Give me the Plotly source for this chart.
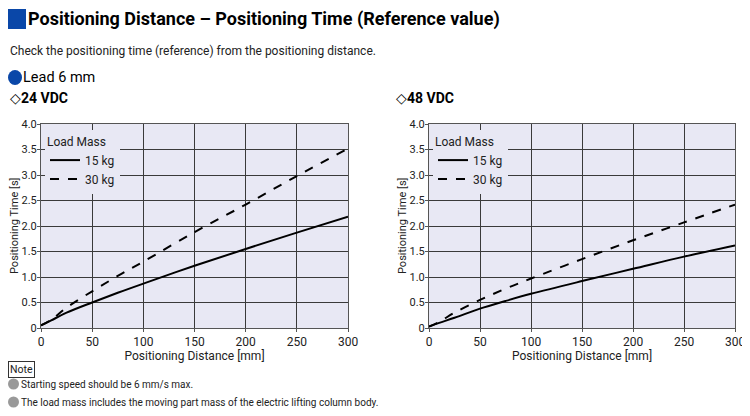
import plotly.graph_objects as go

# positioning distance [mm]
distance = [0, 10, 25, 50, 75, 100, 150, 200, 250, 300]

# positioning time [s], 24 VDC
time_24_15kg = [0.05, 0.15, 0.30, 0.50, 0.69, 0.87, 1.22, 1.55, 1.87, 2.18]
time_24_30kg = [0.05, 0.16, 0.40, 0.72, 1.02, 1.30, 1.88, 2.42, 2.98, 3.52]

# positioning time [s], 48 VDC
time_48_15kg = [0.03, 0.10, 0.20, 0.38, 0.53, 0.67, 0.92, 1.16, 1.40, 1.62]
time_48_30kg = [0.03, 0.12, 0.30, 0.55, 0.77, 0.97, 1.35, 1.72, 2.07, 2.42]

x_ticks = [0, 50, 100, 150, 200, 250, 300]
y_ticks = [0, 0.5, 1.0, 1.5, 2.0, 2.5, 3.0, 3.5, 4.0]
y_ticktext = ["0", "0.5", "1.0", "1.5", "2.0", "2.5", "3.0", "3.5", "4.0"]

FONT = "Roboto, Liberation Sans, sans-serif"
PLOT_BG = "#e8e8f4"
GRID = "#3a3a3a"
TEXT = "#222"

# the page body has an 8px margin, so the figure is placed 8px in
OFF = 8
W, H = 750 - OFF, 416 - OFF


def px(x):
    return (x - OFF) / W


def py(y):
    return 1 - (y - OFF) / H


fig = go.Figure()

panels = [
    ("x", "y", "legend", time_24_15kg, time_24_30kg),
    ("x2", "y2", "legend2", time_48_15kg, time_48_30kg),
]
for xa, ya, lg, t15, t30 in panels:
    fig.add_trace(go.Scatter(
        x=distance, y=t15, name="15 kg", mode="lines",
        line=dict(color="black", width=2, shape="spline"),
        xaxis=xa, yaxis=ya, legend=lg))
    fig.add_trace(go.Scatter(
        x=distance, y=t30, name="30 kg", mode="lines",
        line=dict(color="black", width=2, dash="dash", shape="spline"),
        xaxis=xa, yaxis=ya, legend=lg))

axis_common = dict(
    showgrid=True, gridcolor=GRID, gridwidth=1.3,
    showline=True, linecolor="#555", linewidth=1, mirror=True,
    ticks="outside", ticklen=3, tickcolor="#555",
    tickfont=dict(family=FONT, size=11, color=TEXT),
    zeroline=False, fixedrange=True, automargin=False,
)

xdoms = [(px(41), px(348)), (px(429), px(735))]
ydom = (py(328), py(124))

layout = dict(
    width=W, height=H,
    margin=dict(l=0, r=0, t=0, b=0),
    paper_bgcolor="white", plot_bgcolor=PLOT_BG,
    font=dict(family=FONT, color=TEXT),
    showlegend=True,
)
for i, (x0, x1) in enumerate(xdoms):
    sfx = "" if i == 0 else "2"
    layout["xaxis" + sfx] = dict(
        axis_common, domain=[x0, x1], range=[0, 300],
        tickvals=x_ticks, anchor="y" + sfx,
        tickfont=dict(family=FONT, size=12, color=TEXT),
        title=dict(text="Positioning Distance [mm]", standoff=2,
                   font=dict(family=FONT, size=12, color=TEXT)))
    layout["yaxis" + sfx] = dict(
        axis_common, domain=list(ydom), range=[0, 4.0],
        tickvals=y_ticks, ticktext=y_ticktext, anchor="x" + sfx,
        ticklabelstandoff=-2)
    layout["legend" + sfx] = dict(
        x=x0 + 4 / W, y=ydom[1] - 6 / H, xanchor="left", yanchor="top",
        bgcolor=PLOT_BG, borderwidth=0,
        title=dict(text="Load Mass", side="top",
                   font=dict(family=FONT, size=12, color=TEXT)),
        font=dict(family=FONT, size=12, color=TEXT),
        tracegroupgap=0, itemwidth=30,
    )
fig.update_layout(layout)

# y axis titles, placed by hand so they sit clear of the tick labels
for xc in [14, 402]:
    fig.add_annotation(text="Positioning Time [s]", xref="paper", yref="paper",
                       x=px(xc), y=(ydom[0] + ydom[1]) / 2, textangle=-90,
                       xanchor="center", yanchor="middle", showarrow=False,
                       borderpad=0, font=dict(family=FONT, size=11, color=TEXT))

# header texts
fig.add_shape(type="rect", xref="paper", yref="paper",
              x0=px(8), x1=px(26), y0=py(29), y1=py(9),
              fillcolor="#0a47a8", line_width=0)
fig.add_annotation(text="<b>Positioning Distance – Positioning Time (Reference value)</b>",
                   xref="paper", yref="paper", x=px(26), y=py(19),
                   xanchor="left", yanchor="middle", showarrow=False,
                   font=dict(family=FONT, size=18, color="black"))
fig.add_annotation(text="Check the positioning time (reference) from the positioning distance.",
                   xref="paper", yref="paper", x=px(8), y=py(51),
                   xanchor="left", yanchor="middle", showarrow=False,
                   font=dict(family=FONT, size=12, color=TEXT))
fig.add_shape(type="circle", xref="paper", yref="paper",
              x0=px(8), x1=px(22), y0=py(85), y1=py(70),
              fillcolor="#0a47a8", line_width=0)
fig.add_annotation(text="Lead 6 mm", xref="paper", yref="paper",
                   x=px(21), y=py(77), xanchor="left", yanchor="middle",
                   showarrow=False, font=dict(family=FONT, size=14.5, color="black"))
for xp, label in [(8, "◇<b>24 VDC</b>"), (394, "◇<b>48 VDC</b>")]:
    fig.add_annotation(text=label, xref="paper", yref="paper",
                       x=px(xp), y=py(98), xanchor="left", yanchor="middle",
                       showarrow=False, font=dict(family=FONT, size=14, color="black"))

# notes
fig.add_annotation(text="Note", xref="paper", yref="paper",
                   x=px(8), y=py(369), xanchor="left", yanchor="middle",
                   showarrow=False, bordercolor="#333", borderwidth=1, borderpad=1,
                   font=dict(family=FONT, size=10.5, color=TEXT))
notes = ["Starting speed should be 6 mm/s max.",
         "The load mass includes the moving part mass of the electric lifting column body."]
for k, note in enumerate(notes):
    yc = 384 + 18 * k
    fig.add_shape(type="circle", xref="paper", yref="paper",
                  x0=px(8), x1=px(19), y0=py(yc + 5.5), y1=py(yc - 5.5),
                  fillcolor="#999", line_width=0)
    fig.add_annotation(text=note, xref="paper", yref="paper",
                       x=px(19), y=py(yc), xanchor="left", yanchor="middle",
                       showarrow=False, font=dict(family=FONT, size=10, color=TEXT))

fig.write_html("out.html")
